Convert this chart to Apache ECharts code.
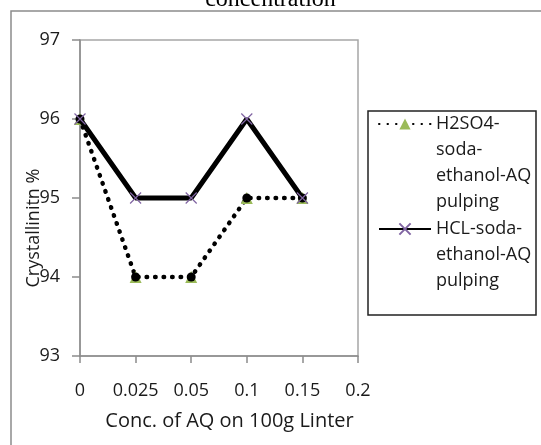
<!DOCTYPE html>
<html>
<head>
<meta charset="utf-8">
<script src="https://cdn.jsdelivr.net/npm/echarts@6/dist/echarts.min.js"></script>
<style>html,body{margin:0;padding:0;background:#fff;}#c{width:541px;height:445px;}</style>
</head>
<body>
<div id="c"></div>
<script>
const categories = ['0', '0.025', '0.05', '0.1', '0.15', '0.2'];
const h2so4 = [96, 94, 94, 95, 95];
const hcl = [96, 95, 95, 96, 95];
const seriesNames = ['H2SO4-\nsoda-\nethanol-AQ\npulping', 'HCL-soda-\nethanol-AQ\npulping'];
const yMin = 93, yMax = 97, yStep = 1;
const titleText = 'concentration';
const xName = 'Conc. of AQ on 100g Linter';
const yName = 'Crystallinitn %';

const font = 'Open Sans';
// prepend blank lines so the first text line sits level with the legend icon
function topAligned(name) {
  const n = name.split('\n').length;
  return '\n'.repeat(n - 1) + name;
}
const legendText = {fontFamily: font, fontSize: 18, color: '#1a1a1a', lineHeight: 26};
const chart = echarts.init(document.getElementById('c'), null, {renderer: 'canvas'});
chart.setOption({
  backgroundColor: '#fff',
  animation: false,
  title: {
    text: titleText, left: 'center', top: -17,
    textStyle: {fontFamily: 'Liberation Serif', fontSize: 24, fontWeight: 'normal', color: '#000', lineHeight: 24}
  },
  grid: {left: 80, right: 183, top: 40, bottom: 89, outerBoundsMode: 'none',
    show: true, borderColor: '#a6a6a6', borderWidth: 1.5},
  legend: [
    {orient: 'vertical', left: 378, top: 33, padding: 0, itemWidth: 52, itemHeight: 14,
     data: [seriesNames[0]], formatter: topAligned, textStyle: legendText},
    {orient: 'vertical', left: 378, top: 164, padding: 0, itemWidth: 52, itemHeight: 14,
     data: [seriesNames[1]], formatter: topAligned, textStyle: legendText}
  ],
  graphic: [
    {type: 'rect', shape: {x: 368, y: 111, width: 168, height: 204}, style: {fill: 'none', stroke: '#222', lineWidth: 1.5}, silent: true},
    {type: 'rect', shape: {x: 11, y: 11, width: 700, height: 700}, style: {fill: 'none', stroke: '#8c8c8c', lineWidth: 1.5}, silent: true}
  ],
  xAxis: {
    type: 'category', data: categories, boundaryGap: false,
    axisLine: {lineStyle: {color: '#8c8c8c', width: 1.5}},
    axisTick: {show: true, length: 7, interval: 0, lineStyle: {color: '#8c8c8c', width: 1.5}},
    axisLabel: {fontFamily: font, fontSize: 18, color: '#1a1a1a', margin: 26, interval: 0},
    name: xName, nameLocation: 'middle', nameGap: 55, nameMoveOverlap: false,
    nameTextStyle: {fontFamily: font, fontSize: 20, color: '#1a1a1a', padding: [0, 0, 0, 21]}
  },
  yAxis: {
    type: 'value', min: yMin, max: yMax, interval: yStep,
    splitLine: {show: false},
    axisLine: {show: true, lineStyle: {color: '#8c8c8c', width: 1.5}},
    axisTick: {show: true, length: 8, lineStyle: {color: '#8c8c8c', width: 1.5}},
    axisLabel: {fontFamily: font, fontSize: 18, color: '#1a1a1a', margin: 20},
    name: yName, nameLocation: 'middle', nameGap: 37, nameMoveOverlap: false,
    nameTextStyle: {fontFamily: font, fontSize: 18, color: '#1a1a1a', padding: [0, 60, 0, 0]}
  },
  series: [
    {
      name: seriesNames[0], type: 'line', data: h2so4,
      symbol: 'triangle', symbolSize: 12, showSymbol: true,
      itemStyle: {color: '#9bbb59'},
      lineStyle: {color: '#000', width: 4.5, type: [0.5, 8], cap: 'round'},
      z: 2
    },
    {
      name: 'h2so4-dots', type: 'line', data: h2so4,
      symbol: 'circle', symbolSize: 9,
      itemStyle: {color: '#000'},
      lineStyle: {width: 0, opacity: 0},
      z: 3
    },
    {
      name: seriesNames[1], type: 'line', data: hcl,
      symbol: 'path://M0,0L10,10M10,0L0,10', symbolSize: 11,
      itemStyle: {color: '#8064a2', borderColor: '#8064a2', borderWidth: 1.2},
      lineStyle: {color: '#000', width: 5},
      z: 4
    }
  ]
});
</script>
</body>
</html>
